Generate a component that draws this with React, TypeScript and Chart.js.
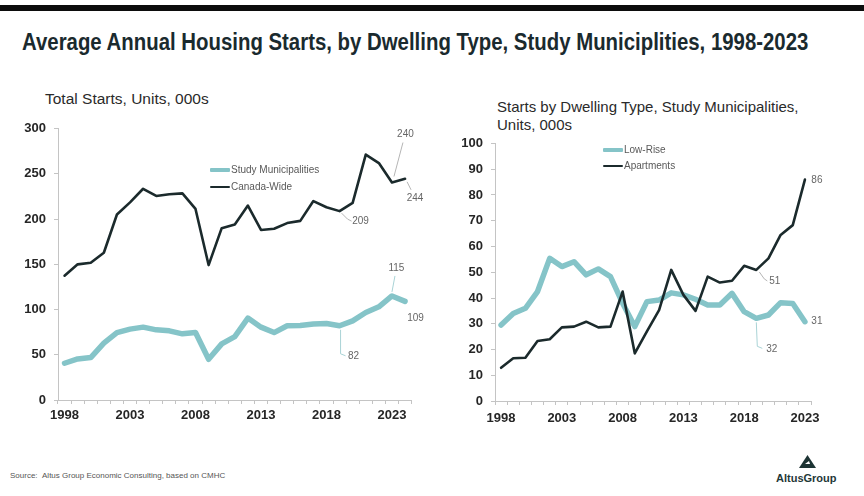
import React, { useEffect, useLayoutEffect, useRef } from "react";
import { Chart, registerables } from "chart.js";

Chart.register(...registerables);

// ---------- DATA ----------
const yearsTotal = ["1998","1999","2000","2001","2002","2003","2004","2005","2006","2007","2008","2009","2010","2011","2012","2013","2014","2015","2016","2017","2018","2019","2020","2021","2022","2023","2024"];
const yearsType = ["1998","1999","2000","2001","2002","2003","2004","2005","2006","2007","2008","2009","2010","2011","2012","2013","2014","2015","2016","2017","2018","2019","2020","2021","2022","2023"];
const xTickLabels = ["1998","2003","2008","2013","2018","2023"];

const studyMunicipalities = [40.6,45.4,46.9,62.8,74.5,78.3,80.5,77.5,76.4,73.1,74.5,45.0,62.0,70.0,90.5,80.5,74.5,82.0,82.3,84.0,84.5,82.0,87.5,96.7,103.0,115.0,109.0];
const canadaWide = [137.4,149.9,151.7,162.7,205.0,218.4,233.4,225.5,227.4,228.3,211.1,149.1,189.9,193.9,214.8,187.9,189.3,195.5,197.9,219.8,213.0,208.7,217.9,271.2,261.8,240.3,244.4];

const lowRise = [29.5,34.0,36.0,42.5,55.4,52.2,54.1,49.0,51.3,48.3,38.0,28.9,38.6,39.2,42.0,41.2,39.5,37.3,37.3,41.8,34.7,32.1,33.4,38.2,37.9,30.8];
const apartments = [12.9,16.6,16.8,23.3,24.0,28.6,28.9,30.8,28.6,28.9,42.5,18.5,27.0,35.3,50.9,41.2,35.0,48.3,46.0,46.7,52.5,50.9,55.4,64.5,68.3,86.0];

const leftYTicks = { max: 300, step: 50 };
const rightYTicks = { max: 100, step: 10 };

// ---------- STYLE ----------
const TEAL = "#85c4c8";
const DARK = "#1b2a2c";
const AXIS = "#c4c4c4";
const FONT = '"Liberation Sans", Arial, Helvetica, sans-serif';

type Ann = { ds: number; idx: number; dx: number; dy: number; path?: number[][]; lineColor?: string };

const leftAnnotations: Ann[] = [
  { ds: 1, idx: 25, dx: 13.5, dy: -48, path: [[2, -6], [11, -40]], lineColor: "#b5b5b5" },
  { ds: 1, idx: 26, dx: 10, dy: 19, path: [[2, 3], [6, 11]], lineColor: "#b5b5b5" },
  { ds: 1, idx: 21, dx: 21, dy: 10.5, path: [[2, 2], [8, 8], [12, 10]], lineColor: "#b5b5b5" },
  { ds: 0, idx: 25, dx: 4.5, dy: -28, path: [[0, -4], [3, -20]], lineColor: "#a9d3d6" },
  { ds: 0, idx: 26, dx: 10.5, dy: 16.5 },
  { ds: 0, idx: 21, dx: 14, dy: 30, path: [[1, 4], [1, 28], [6, 30]], lineColor: "#a9d3d6" },
];
const rightAnnotations: Ann[] = [
  { ds: 1, idx: 25, dx: 12, dy: 1 },
  { ds: 1, idx: 21, dx: 18.5, dy: 11, path: [[3, 2], [8, 9], [11, 11]], lineColor: "#b5b5b5" },
  { ds: 0, idx: 21, dx: 15.5, dy: 30.5, path: [[0, 4], [1, 28], [6, 30]], lineColor: "#a9d3d6" },
  { ds: 0, idx: 25, dx: 12, dy: 0 },
];

function leaderPlugin(items: Ann[]) {
  return {
    id: "leaderLabels",
    afterDatasetsDraw(chart: any) {
      const ctx = chart.ctx;
      ctx.save();
      items.forEach((it) => {
        const el = chart.getDatasetMeta(it.ds).data[it.idx];
        if (!el) return;
        const x = el.x, y = el.y;
        const value = chart.data.datasets[it.ds].data[it.idx];
        if (it.path && it.path.length) {
          ctx.beginPath();
          ctx.strokeStyle = it.lineColor || "#bbb";
          ctx.lineWidth = 1;
          it.path.forEach(([dx, dy], i) => (i ? ctx.lineTo(x + dx, y + dy) : ctx.moveTo(x + dx, y + dy)));
          ctx.stroke();
        }
        ctx.fillStyle = "#666";
        ctx.font = `10px ${FONT}`;
        ctx.textAlign = "center";
        ctx.textBaseline = "middle";
        ctx.fillText(String(Math.round(value)), x + it.dx, y + it.dy);
      });
      ctx.restore();
    },
  };
}

function buildOptions(cfg: { yMax: number; yStep: number; yWidth: number; xHeight: number; padding: any; xLabelPad: number }) {
  const tickFont = { family: FONT, size: 13, weight: "bold" as const };
  return {
    responsive: false,
    maintainAspectRatio: false,
    animation: false as const,
    layout: { padding: cfg.padding },
    plugins: { legend: { display: false }, tooltip: { enabled: false }, title: { display: false } },
    elements: { point: { radius: 0 }, line: { tension: 0, borderJoinStyle: "round" as const, borderCapStyle: "round" as const } },
    scales: {
      x: {
        type: "category" as const,
        offset: true,
        grid: { display: true, drawOnChartArea: false, drawTicks: true, tickLength: 4, color: AXIS, offset: true },
        border: { display: true, color: AXIS, width: 1 },
        ticks: {
          autoSkip: false,
          maxRotation: 0,
          padding: cfg.xLabelPad,
          color: "#262626",
          font: tickFont,
          callback(this: any, v: any) {
            const lab = this.getLabelForValue(v);
            return xTickLabels.includes(lab) ? lab : "";
          },
        },
        afterFit(s: any) { s.height = cfg.xHeight; },
      },
      y: {
        min: 0,
        max: cfg.yMax,
        grid: { display: true, drawOnChartArea: false, drawTicks: true, tickLength: 4, color: AXIS },
        border: { display: true, color: AXIS, width: 1 },
        ticks: { stepSize: cfg.yStep, padding: 8, color: "#262626", font: tickFont },
        afterFit(s: any) { s.width = cfg.yWidth; },
      },
    },
  };
}

function LineChart(props: { labels: string[]; datasets: any[]; opts: any; ann: Ann[]; style: React.CSSProperties; width: number; height: number }) {
  const ref = useRef<HTMLCanvasElement>(null);
  useEffect(() => {
    if (!ref.current) return;
    const chart = new Chart(ref.current, {
      type: "line",
      data: { labels: props.labels, datasets: props.datasets },
      options: props.opts,
      plugins: [leaderPlugin(props.ann)],
    } as any);
    return () => chart.destroy();
  }, []);
  return (
    <div style={{ position: "absolute", ...props.style, width: props.width, height: props.height }}>
      <canvas ref={ref} width={props.width} height={props.height} style={{ width: props.width, height: props.height, display: "block" }} />
    </div>
  );
}

function FitText(props: { text: string; target: number; style: React.CSSProperties }) {
  const ref = useRef<HTMLSpanElement>(null);
  useLayoutEffect(() => {
    const el = ref.current;
    if (!el) return;
    const w = el.offsetWidth;
    if (w > 0) el.style.transform = `scaleX(${props.target / w})`;
  }, []);
  return (
    <span ref={ref} style={{ position: "absolute", whiteSpace: "nowrap", transformOrigin: "0 0", display: "inline-block", ...props.style }}>
      {props.text}
    </span>
  );
}

function LegendItem(props: { x: number; y: number; color: string; thick: number; text: string }) {
  return (
    <div style={{ position: "absolute", left: props.x, top: props.y - 7, height: 14, display: "flex", alignItems: "center" }}>
      <div style={{ width: 20, height: props.thick, background: props.color, borderRadius: 1 }} />
      <span style={{ fontSize: 10, color: "#595959", marginLeft: 1, lineHeight: "14px" }}>{props.text}</span>
    </div>
  );
}

export default function App() {
  const leftDatasets = [
    { label: "Study Municipalities", data: studyMunicipalities, borderColor: TEAL, backgroundColor: TEAL, borderWidth: 5.5, order: 1 },
    { label: "Canada-Wide", data: canadaWide, borderColor: DARK, backgroundColor: DARK, borderWidth: 2.6, order: 0 },
  ];
  const rightDatasets = [
    { label: "Low-Rise", data: lowRise, borderColor: TEAL, backgroundColor: TEAL, borderWidth: 5.5, order: 1 },
    { label: "Apartments", data: apartments, borderColor: DARK, backgroundColor: DARK, borderWidth: 2.6, order: 0 },
  ];

  const leftOpts = buildOptions({ yMax: leftYTicks.max, yStep: leftYTicks.step, yWidth: 58, xHeight: 40, padding: { left: 0, right: 20.4, top: 38.5, bottom: 0 }, xLabelPad: 4 });
  const rightOpts = buildOptions({ yMax: rightYTicks.max, yStep: rightYTicks.step, yWidth: 55, xHeight: 39, padding: { left: 0, right: 53, top: 53.5, bottom: 0 }, xLabelPad: 6 });

  return (
    <div style={{ position: "fixed", left: 0, top: 0, width: 864, height: 496, background: "#fff", overflow: "hidden", fontFamily: FONT }}>
      <div style={{ position: "absolute", left: 0, top: 5, width: 864, height: 6, background: "#0c0c0c" }} />
      <FitText
        text="Average Annual Housing Starts, by Dwelling Type, Study Municiplities, 1998-2023"
        target={786}
        style={{ left: 22, top: 29, fontSize: 23, lineHeight: "26px", fontWeight: "bold", color: "#1a2a2e" }}
      />

      <div style={{ position: "absolute", left: 45, top: 90, fontSize: 15.5, lineHeight: "18.5px", color: "#2a2a2a" }}>Total Starts, Units, 000s</div>
      <div style={{ position: "absolute", left: 497, top: 97.5, fontSize: 15, lineHeight: "18.5px", color: "#2a2a2a" }}>
        Starts by Dwelling Type, Study Municipalities,
        <br />
        Units, 000s
      </div>

      <LineChart labels={yearsTotal} datasets={leftDatasets} opts={leftOpts} ann={leftAnnotations} style={{ left: 0, top: 90 }} width={432} height={350} />
      <LineChart labels={yearsType} datasets={rightDatasets} opts={rightOpts} ann={rightAnnotations} style={{ left: 440, top: 90 }} width={424} height={350} />

      <LegendItem x={210} y={170} color={TEAL} thick={4} text="Study Municipalities" />
      <LegendItem x={210} y={187} color={DARK} thick={2.5} text="Canada-Wide" />
      <LegendItem x={603} y={149.5} color={TEAL} thick={4} text="Low-Rise" />
      <LegendItem x={603} y={166} color={DARK} thick={2.5} text="Apartments" />

      <div style={{ position: "absolute", left: 10, top: 471, fontSize: 8, lineHeight: "10px", color: "#555", whiteSpace: "nowrap" }}>
        Source:&nbsp;&nbsp;Altus Group Economic Consulting, based on CMHC
      </div>

      <svg style={{ position: "absolute", left: 799, top: 455 }} width={17} height={13} viewBox="0 0 17 13">
        <polygon points="0,13 8.5,0 17,13" fill="#1d3434" />
        <polygon points="6,9 10,6 11,9" fill="#ffffff" />
      </svg>
      <div style={{ position: "absolute", left: 776, top: 471, fontSize: 11, lineHeight: "14px", fontWeight: 600, color: "#1f3838", whiteSpace: "nowrap" }}>
        AltusGroup
      </div>
    </div>
  );
}
